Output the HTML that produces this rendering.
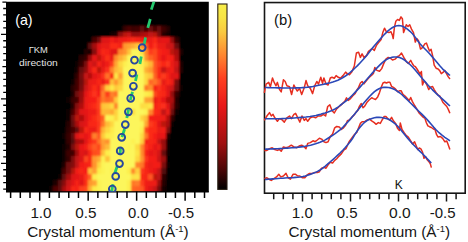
<!DOCTYPE html>
<html><head><meta charset="utf-8"><title>figure</title>
<style>html,body{margin:0;padding:0;background:#fff;}svg{display:block}text{font-family:"Liberation Sans",sans-serif;}</style>
</head><body>
<svg width="468" height="242" viewBox="0 0 468 242">
<defs>
<filter id="hb" x="-5%" y="-5%" width="110%" height="110%"><feGaussianBlur stdDeviation="1.25"/></filter>
<clipPath id="hclip"><rect x="6.00" y="1.80" width="202.80" height="190.20"/></clipPath>
<linearGradient id="cb" x1="0" y1="1" x2="0" y2="0">
<stop offset="0.00" stop-color="#000000"/>
<stop offset="0.10" stop-color="#460606"/>
<stop offset="0.25" stop-color="#a01010"/>
<stop offset="0.45" stop-color="#e81818"/>
<stop offset="0.60" stop-color="#ff4020"/>
<stop offset="0.72" stop-color="#fe8430"/>
<stop offset="0.85" stop-color="#faca40"/>
<stop offset="0.93" stop-color="#f8e444"/>
<stop offset="1.00" stop-color="#f8ee4a"/>
</linearGradient>
</defs>
<rect width="468" height="242" fill="#fff"/>
<g filter="url(#hb)" clip-path="url(#hclip)" shape-rendering="crispEdges">
<rect x="3.0" y="-1.2" width="208.8" height="196.2" fill="#000"/>
<rect x="118.19" y="25.57" width="4.36" height="5.99" fill="#050000"/>
<rect x="122.50" y="25.57" width="4.36" height="5.99" fill="#390404"/>
<rect x="126.82" y="25.57" width="4.36" height="5.99" fill="#4c0606"/>
<rect x="131.13" y="25.57" width="4.36" height="5.99" fill="#3c0404"/>
<rect x="135.45" y="25.57" width="4.36" height="5.99" fill="#410505"/>
<rect x="139.76" y="25.57" width="4.36" height="5.99" fill="#620808"/>
<rect x="144.08" y="25.57" width="4.36" height="5.99" fill="#3c0404"/>
<rect x="148.39" y="25.57" width="4.36" height="5.99" fill="#6c0909"/>
<rect x="152.71" y="25.57" width="4.36" height="5.99" fill="#470505"/>
<rect x="157.02" y="25.57" width="4.36" height="5.99" fill="#680909"/>
<rect x="161.34" y="25.57" width="4.36" height="5.99" fill="#3d0404"/>
<rect x="165.65" y="25.57" width="4.36" height="5.99" fill="#200202"/>
<rect x="109.56" y="31.52" width="4.36" height="5.99" fill="#140101"/>
<rect x="113.87" y="31.52" width="4.36" height="5.99" fill="#1d0202"/>
<rect x="118.19" y="31.52" width="4.36" height="5.99" fill="#8c0d0d"/>
<rect x="122.50" y="31.52" width="4.36" height="5.99" fill="#b91211"/>
<rect x="126.82" y="31.52" width="4.36" height="5.99" fill="#c81412"/>
<rect x="131.13" y="31.52" width="4.36" height="5.99" fill="#960e0e"/>
<rect x="135.45" y="31.52" width="4.36" height="5.99" fill="#940e0e"/>
<rect x="139.76" y="31.52" width="4.36" height="5.99" fill="#a81010"/>
<rect x="144.08" y="31.52" width="4.36" height="5.99" fill="#b21110"/>
<rect x="148.39" y="31.52" width="4.36" height="5.99" fill="#c31312"/>
<rect x="152.71" y="31.52" width="4.36" height="5.99" fill="#bb1211"/>
<rect x="157.02" y="31.52" width="4.36" height="5.99" fill="#7a0b0b"/>
<rect x="161.34" y="31.52" width="4.36" height="5.99" fill="#280303"/>
<rect x="165.65" y="31.52" width="4.36" height="5.99" fill="#160101"/>
<rect x="87.98" y="37.46" width="4.36" height="5.99" fill="#020000"/>
<rect x="92.30" y="37.46" width="4.36" height="5.99" fill="#480505"/>
<rect x="96.61" y="37.46" width="4.36" height="5.99" fill="#6f0a0a"/>
<rect x="100.93" y="37.46" width="4.36" height="5.99" fill="#db1614"/>
<rect x="105.24" y="37.46" width="4.36" height="5.99" fill="#e01714"/>
<rect x="109.56" y="37.46" width="4.36" height="5.99" fill="#f11d16"/>
<rect x="113.87" y="37.46" width="4.36" height="5.99" fill="#e41815"/>
<rect x="118.19" y="37.46" width="4.36" height="5.99" fill="#eb1b15"/>
<rect x="122.50" y="37.46" width="4.36" height="5.99" fill="#f31e16"/>
<rect x="126.82" y="37.46" width="4.36" height="5.99" fill="#f52016"/>
<rect x="131.13" y="37.46" width="4.36" height="5.99" fill="#fa2919"/>
<rect x="135.45" y="37.46" width="4.36" height="5.99" fill="#f72317"/>
<rect x="139.76" y="37.46" width="4.36" height="5.99" fill="#ef1c16"/>
<rect x="144.08" y="37.46" width="4.36" height="5.99" fill="#e81a15"/>
<rect x="148.39" y="37.46" width="4.36" height="5.99" fill="#ed1b15"/>
<rect x="152.71" y="37.46" width="4.36" height="5.99" fill="#f92818"/>
<rect x="157.02" y="37.46" width="4.36" height="5.99" fill="#df1614"/>
<rect x="161.34" y="37.46" width="4.36" height="5.99" fill="#e61915"/>
<rect x="165.65" y="37.46" width="4.36" height="5.99" fill="#e31814"/>
<rect x="169.97" y="37.46" width="4.36" height="5.99" fill="#950e0e"/>
<rect x="174.28" y="37.46" width="4.36" height="5.99" fill="#340303"/>
<rect x="87.98" y="43.41" width="4.36" height="5.99" fill="#5b0707"/>
<rect x="92.30" y="43.41" width="4.36" height="5.99" fill="#a5100f"/>
<rect x="96.61" y="43.41" width="4.36" height="5.99" fill="#df1614"/>
<rect x="100.93" y="43.41" width="4.36" height="5.99" fill="#e91a15"/>
<rect x="105.24" y="43.41" width="4.36" height="5.99" fill="#e81a15"/>
<rect x="109.56" y="43.41" width="8.68" height="5.99" fill="#fb2c19"/>
<rect x="118.19" y="43.41" width="4.36" height="5.99" fill="#f52016"/>
<rect x="122.50" y="43.41" width="4.36" height="5.99" fill="#ff962e"/>
<rect x="126.82" y="43.41" width="4.36" height="5.99" fill="#ffa131"/>
<rect x="131.13" y="43.41" width="4.36" height="5.99" fill="#feae34"/>
<rect x="135.45" y="43.41" width="4.36" height="5.99" fill="#fec53a"/>
<rect x="139.76" y="43.41" width="4.36" height="5.99" fill="#ff922d"/>
<rect x="144.08" y="43.41" width="4.36" height="5.99" fill="#ff5e22"/>
<rect x="148.39" y="43.41" width="4.36" height="5.99" fill="#f21d16"/>
<rect x="152.71" y="43.41" width="4.36" height="5.99" fill="#fd301a"/>
<rect x="157.02" y="43.41" width="4.36" height="5.99" fill="#ee1c15"/>
<rect x="161.34" y="43.41" width="4.36" height="5.99" fill="#e91a15"/>
<rect x="165.65" y="43.41" width="4.36" height="5.99" fill="#d01413"/>
<rect x="169.97" y="43.41" width="4.36" height="5.99" fill="#c91412"/>
<rect x="174.28" y="43.41" width="4.36" height="5.99" fill="#680909"/>
<rect x="178.60" y="43.41" width="4.36" height="5.99" fill="#050000"/>
<rect x="83.67" y="49.35" width="4.36" height="5.99" fill="#210202"/>
<rect x="87.98" y="49.35" width="4.36" height="5.99" fill="#1a0202"/>
<rect x="92.30" y="49.35" width="4.36" height="5.99" fill="#880c0c"/>
<rect x="96.61" y="49.35" width="4.36" height="5.99" fill="#e41815"/>
<rect x="100.93" y="49.35" width="4.36" height="5.99" fill="#f82518"/>
<rect x="105.24" y="49.35" width="4.36" height="5.99" fill="#f62317"/>
<rect x="109.56" y="49.35" width="4.36" height="5.99" fill="#e01714"/>
<rect x="113.87" y="49.35" width="4.36" height="5.99" fill="#de1614"/>
<rect x="118.19" y="49.35" width="4.36" height="5.99" fill="#ff852a"/>
<rect x="122.50" y="49.35" width="4.36" height="5.99" fill="#ff932d"/>
<rect x="126.82" y="49.35" width="4.36" height="5.99" fill="#fec339"/>
<rect x="131.13" y="49.35" width="8.68" height="5.99" fill="#fcf65c"/>
<rect x="139.76" y="49.35" width="4.36" height="5.99" fill="#fddf43"/>
<rect x="144.08" y="49.35" width="4.36" height="5.99" fill="#ff892b"/>
<rect x="148.39" y="49.35" width="4.36" height="5.99" fill="#fe3d1c"/>
<rect x="152.71" y="49.35" width="4.36" height="5.99" fill="#fe4c1f"/>
<rect x="157.02" y="49.35" width="4.36" height="5.99" fill="#f92718"/>
<rect x="161.34" y="49.35" width="4.36" height="5.99" fill="#f41f16"/>
<rect x="165.65" y="49.35" width="4.36" height="5.99" fill="#ee1c15"/>
<rect x="169.97" y="49.35" width="4.36" height="5.99" fill="#bc1211"/>
<rect x="174.28" y="49.35" width="4.36" height="5.99" fill="#a8100f"/>
<rect x="178.60" y="49.35" width="4.36" height="5.99" fill="#1e0202"/>
<rect x="75.04" y="55.29" width="4.36" height="5.99" fill="#020000"/>
<rect x="79.35" y="55.29" width="4.36" height="5.99" fill="#2a0303"/>
<rect x="83.67" y="55.29" width="4.36" height="5.99" fill="#380404"/>
<rect x="87.98" y="55.29" width="4.36" height="5.99" fill="#970e0e"/>
<rect x="92.30" y="55.29" width="4.36" height="5.99" fill="#e71915"/>
<rect x="96.61" y="55.29" width="4.36" height="5.99" fill="#bf1311"/>
<rect x="100.93" y="55.29" width="4.36" height="5.99" fill="#eb1b15"/>
<rect x="105.24" y="55.29" width="4.36" height="5.99" fill="#fc2d19"/>
<rect x="109.56" y="55.29" width="4.36" height="5.99" fill="#eb1b15"/>
<rect x="113.87" y="55.29" width="4.36" height="5.99" fill="#ff8b2b"/>
<rect x="118.19" y="55.29" width="4.36" height="5.99" fill="#feb035"/>
<rect x="122.50" y="55.29" width="4.36" height="5.99" fill="#fecb3c"/>
<rect x="126.82" y="55.29" width="12.99" height="5.99" fill="#fcf65c"/>
<rect x="139.76" y="55.29" width="4.36" height="5.99" fill="#fcf65b"/>
<rect x="144.08" y="55.29" width="4.36" height="5.99" fill="#ff922d"/>
<rect x="148.39" y="55.29" width="4.36" height="5.99" fill="#ff6424"/>
<rect x="152.71" y="55.29" width="4.36" height="5.99" fill="#fe4d1f"/>
<rect x="157.02" y="55.29" width="4.36" height="5.99" fill="#f72517"/>
<rect x="161.34" y="55.29" width="4.36" height="5.99" fill="#e71915"/>
<rect x="165.65" y="55.29" width="4.36" height="5.99" fill="#f62117"/>
<rect x="169.97" y="55.29" width="4.36" height="5.99" fill="#f51f16"/>
<rect x="174.28" y="55.29" width="4.36" height="5.99" fill="#b21110"/>
<rect x="178.60" y="55.29" width="4.36" height="5.99" fill="#040000"/>
<rect x="75.04" y="61.24" width="4.36" height="5.99" fill="#0b0101"/>
<rect x="79.35" y="61.24" width="4.36" height="5.99" fill="#360404"/>
<rect x="83.67" y="61.24" width="4.36" height="5.99" fill="#7d0b0b"/>
<rect x="87.98" y="61.24" width="4.36" height="5.99" fill="#e11714"/>
<rect x="92.30" y="61.24" width="4.36" height="5.99" fill="#cd1413"/>
<rect x="96.61" y="61.24" width="4.36" height="5.99" fill="#f72417"/>
<rect x="100.93" y="61.24" width="4.36" height="5.99" fill="#e11714"/>
<rect x="105.24" y="61.24" width="4.36" height="5.99" fill="#ef1c16"/>
<rect x="109.56" y="61.24" width="4.36" height="5.99" fill="#fd3b1c"/>
<rect x="113.87" y="61.24" width="4.36" height="5.99" fill="#ffa532"/>
<rect x="118.19" y="61.24" width="4.36" height="5.99" fill="#fed841"/>
<rect x="122.50" y="61.24" width="4.36" height="5.99" fill="#fdf04f"/>
<rect x="126.82" y="61.24" width="12.99" height="5.99" fill="#fcf65c"/>
<rect x="139.76" y="61.24" width="4.36" height="5.99" fill="#fcf152"/>
<rect x="144.08" y="61.24" width="4.36" height="5.99" fill="#fed640"/>
<rect x="148.39" y="61.24" width="4.36" height="5.99" fill="#feb636"/>
<rect x="152.71" y="61.24" width="4.36" height="5.99" fill="#ff5421"/>
<rect x="157.02" y="61.24" width="4.36" height="5.99" fill="#fd381b"/>
<rect x="161.34" y="61.24" width="4.36" height="5.99" fill="#f92818"/>
<rect x="165.65" y="61.24" width="4.36" height="5.99" fill="#fd351b"/>
<rect x="169.97" y="61.24" width="4.36" height="5.99" fill="#ea1a15"/>
<rect x="174.28" y="61.24" width="4.36" height="5.99" fill="#d31513"/>
<rect x="178.60" y="61.24" width="4.36" height="5.99" fill="#1b0202"/>
<rect x="75.04" y="67.18" width="4.36" height="5.99" fill="#190202"/>
<rect x="79.35" y="67.18" width="4.36" height="5.99" fill="#660909"/>
<rect x="83.67" y="67.18" width="4.36" height="5.99" fill="#920e0e"/>
<rect x="87.98" y="67.18" width="4.36" height="5.99" fill="#dc1614"/>
<rect x="92.30" y="67.18" width="4.36" height="5.99" fill="#f82618"/>
<rect x="96.61" y="67.18" width="4.36" height="5.99" fill="#bb1211"/>
<rect x="100.93" y="67.18" width="4.36" height="5.99" fill="#e91a15"/>
<rect x="105.24" y="67.18" width="4.36" height="5.99" fill="#fc2f1a"/>
<rect x="109.56" y="67.18" width="4.36" height="5.99" fill="#ff832a"/>
<rect x="113.87" y="67.18" width="4.36" height="5.99" fill="#feb937"/>
<rect x="118.19" y="67.18" width="4.36" height="5.99" fill="#fecb3c"/>
<rect x="122.50" y="67.18" width="17.31" height="5.99" fill="#fcf65c"/>
<rect x="139.76" y="67.18" width="4.36" height="5.99" fill="#fcf459"/>
<rect x="144.08" y="67.18" width="4.36" height="5.99" fill="#feb235"/>
<rect x="148.39" y="67.18" width="4.36" height="5.99" fill="#ff9a2f"/>
<rect x="152.71" y="67.18" width="4.36" height="5.99" fill="#ff5721"/>
<rect x="157.02" y="67.18" width="4.36" height="5.99" fill="#f92918"/>
<rect x="161.34" y="67.18" width="4.36" height="5.99" fill="#c51312"/>
<rect x="165.65" y="67.18" width="4.36" height="5.99" fill="#e81a15"/>
<rect x="169.97" y="67.18" width="4.36" height="5.99" fill="#f31d16"/>
<rect x="174.28" y="67.18" width="4.36" height="5.99" fill="#c11312"/>
<rect x="178.60" y="67.18" width="4.36" height="5.99" fill="#200202"/>
<rect x="70.72" y="73.12" width="4.36" height="5.99" fill="#030000"/>
<rect x="75.04" y="73.12" width="4.36" height="5.99" fill="#320303"/>
<rect x="79.35" y="73.12" width="4.36" height="5.99" fill="#780b0b"/>
<rect x="83.67" y="73.12" width="4.36" height="5.99" fill="#c71312"/>
<rect x="87.98" y="73.12" width="4.36" height="5.99" fill="#b41110"/>
<rect x="92.30" y="73.12" width="4.36" height="5.99" fill="#e41815"/>
<rect x="96.61" y="73.12" width="4.36" height="5.99" fill="#ed1c15"/>
<rect x="100.93" y="73.12" width="4.36" height="5.99" fill="#fc2e1a"/>
<rect x="105.24" y="73.12" width="4.36" height="5.99" fill="#ff7026"/>
<rect x="109.56" y="73.12" width="4.36" height="5.99" fill="#f82618"/>
<rect x="113.87" y="73.12" width="4.36" height="5.99" fill="#fde646"/>
<rect x="118.19" y="73.12" width="4.36" height="5.99" fill="#ffa231"/>
<rect x="122.50" y="73.12" width="4.36" height="5.99" fill="#fcf65c"/>
<rect x="126.82" y="73.12" width="4.36" height="5.99" fill="#fcf559"/>
<rect x="131.13" y="73.12" width="12.99" height="5.99" fill="#fcf65c"/>
<rect x="144.08" y="73.12" width="4.36" height="5.99" fill="#fed841"/>
<rect x="148.39" y="73.12" width="4.36" height="5.99" fill="#fec63a"/>
<rect x="152.71" y="73.12" width="4.36" height="5.99" fill="#ff6123"/>
<rect x="157.02" y="73.12" width="4.36" height="5.99" fill="#f92818"/>
<rect x="161.34" y="73.12" width="4.36" height="5.99" fill="#fd3a1c"/>
<rect x="165.65" y="73.12" width="4.36" height="5.99" fill="#f72417"/>
<rect x="169.97" y="73.12" width="8.68" height="5.99" fill="#e01714"/>
<rect x="178.60" y="73.12" width="4.36" height="5.99" fill="#050000"/>
<rect x="70.72" y="79.07" width="4.36" height="5.99" fill="#0b0101"/>
<rect x="75.04" y="79.07" width="4.36" height="5.99" fill="#420505"/>
<rect x="79.35" y="79.07" width="4.36" height="5.99" fill="#700a0a"/>
<rect x="83.67" y="79.07" width="4.36" height="5.99" fill="#b71211"/>
<rect x="87.98" y="79.07" width="4.36" height="5.99" fill="#e91a15"/>
<rect x="92.30" y="79.07" width="4.36" height="5.99" fill="#ee1c15"/>
<rect x="96.61" y="79.07" width="4.36" height="5.99" fill="#f92818"/>
<rect x="100.93" y="79.07" width="4.36" height="5.99" fill="#eb1b15"/>
<rect x="105.24" y="79.07" width="4.36" height="5.99" fill="#fc2e1a"/>
<rect x="109.56" y="79.07" width="4.36" height="5.99" fill="#febe38"/>
<rect x="113.87" y="79.07" width="4.36" height="5.99" fill="#ff982f"/>
<rect x="118.19" y="79.07" width="4.36" height="5.99" fill="#fec43a"/>
<rect x="122.50" y="79.07" width="4.36" height="5.99" fill="#fcf55a"/>
<rect x="126.82" y="79.07" width="12.99" height="5.99" fill="#fcf65c"/>
<rect x="139.76" y="79.07" width="4.36" height="5.99" fill="#fcf55a"/>
<rect x="144.08" y="79.07" width="4.36" height="5.99" fill="#fdd941"/>
<rect x="148.39" y="79.07" width="4.36" height="5.99" fill="#ff6925"/>
<rect x="152.71" y="79.07" width="4.36" height="5.99" fill="#ff7627"/>
<rect x="157.02" y="79.07" width="4.36" height="5.99" fill="#ff5320"/>
<rect x="161.34" y="79.07" width="4.36" height="5.99" fill="#e81a15"/>
<rect x="165.65" y="79.07" width="4.36" height="5.99" fill="#f92818"/>
<rect x="169.97" y="79.07" width="4.36" height="5.99" fill="#ec1b15"/>
<rect x="174.28" y="79.07" width="4.36" height="5.99" fill="#790b0b"/>
<rect x="70.72" y="85.01" width="4.36" height="5.99" fill="#2a0303"/>
<rect x="75.04" y="85.01" width="4.36" height="5.99" fill="#420505"/>
<rect x="79.35" y="85.01" width="4.36" height="5.99" fill="#790b0b"/>
<rect x="83.67" y="85.01" width="4.36" height="5.99" fill="#ca1412"/>
<rect x="87.98" y="85.01" width="4.36" height="5.99" fill="#e81a15"/>
<rect x="92.30" y="85.01" width="4.36" height="5.99" fill="#fb2c19"/>
<rect x="96.61" y="85.01" width="4.36" height="5.99" fill="#ec1b15"/>
<rect x="100.93" y="85.01" width="4.36" height="5.99" fill="#ff6925"/>
<rect x="105.24" y="85.01" width="4.36" height="5.99" fill="#fecb3c"/>
<rect x="109.56" y="85.01" width="4.36" height="5.99" fill="#fde746"/>
<rect x="113.87" y="85.01" width="4.36" height="5.99" fill="#fec93b"/>
<rect x="118.19" y="85.01" width="4.36" height="5.99" fill="#fed841"/>
<rect x="122.50" y="85.01" width="21.62" height="5.99" fill="#fcf65c"/>
<rect x="144.08" y="85.01" width="4.36" height="5.99" fill="#ff7928"/>
<rect x="148.39" y="85.01" width="4.36" height="5.99" fill="#ff8f2c"/>
<rect x="152.71" y="85.01" width="4.36" height="5.99" fill="#f52017"/>
<rect x="157.02" y="85.01" width="4.36" height="5.99" fill="#fd361b"/>
<rect x="161.34" y="85.01" width="4.36" height="5.99" fill="#f52016"/>
<rect x="165.65" y="85.01" width="4.36" height="5.99" fill="#df1714"/>
<rect x="169.97" y="85.01" width="4.36" height="5.99" fill="#cc1413"/>
<rect x="174.28" y="85.01" width="4.36" height="5.99" fill="#6e0a0a"/>
<rect x="178.60" y="85.01" width="4.36" height="5.99" fill="#070000"/>
<rect x="70.72" y="90.96" width="4.36" height="5.99" fill="#1e0202"/>
<rect x="75.04" y="90.96" width="4.36" height="5.99" fill="#720a0a"/>
<rect x="79.35" y="90.96" width="4.36" height="5.99" fill="#980e0e"/>
<rect x="83.67" y="90.96" width="4.36" height="5.99" fill="#e31814"/>
<rect x="87.98" y="90.96" width="4.36" height="5.99" fill="#f62317"/>
<rect x="92.30" y="90.96" width="4.36" height="5.99" fill="#fd331b"/>
<rect x="96.61" y="90.96" width="4.36" height="5.99" fill="#f41e16"/>
<rect x="100.93" y="90.96" width="4.36" height="5.99" fill="#ff7f29"/>
<rect x="105.24" y="90.96" width="4.36" height="5.99" fill="#fe3e1d"/>
<rect x="109.56" y="90.96" width="4.36" height="5.99" fill="#ff822a"/>
<rect x="113.87" y="90.96" width="4.36" height="5.99" fill="#ff7527"/>
<rect x="118.19" y="90.96" width="25.94" height="5.99" fill="#fcf65c"/>
<rect x="144.08" y="90.96" width="4.36" height="5.99" fill="#fdee4b"/>
<rect x="148.39" y="90.96" width="4.36" height="5.99" fill="#fde545"/>
<rect x="152.71" y="90.96" width="4.36" height="5.99" fill="#fe4a1f"/>
<rect x="157.02" y="90.96" width="4.36" height="5.99" fill="#fb2d19"/>
<rect x="161.34" y="90.96" width="4.36" height="5.99" fill="#f82718"/>
<rect x="165.65" y="90.96" width="4.36" height="5.99" fill="#e21714"/>
<rect x="169.97" y="90.96" width="4.36" height="5.99" fill="#960e0e"/>
<rect x="174.28" y="90.96" width="4.36" height="5.99" fill="#360404"/>
<rect x="66.41" y="96.90" width="4.36" height="5.99" fill="#070000"/>
<rect x="70.72" y="96.90" width="4.36" height="5.99" fill="#3a0404"/>
<rect x="75.04" y="96.90" width="4.36" height="5.99" fill="#470505"/>
<rect x="79.35" y="96.90" width="4.36" height="5.99" fill="#9d0f0f"/>
<rect x="83.67" y="96.90" width="4.36" height="5.99" fill="#ea1a15"/>
<rect x="87.98" y="96.90" width="4.36" height="5.99" fill="#f41e16"/>
<rect x="92.30" y="96.90" width="4.36" height="5.99" fill="#f51f16"/>
<rect x="96.61" y="96.90" width="4.36" height="5.99" fill="#fe401d"/>
<rect x="100.93" y="96.90" width="4.36" height="5.99" fill="#ff7727"/>
<rect x="105.24" y="96.90" width="4.36" height="5.99" fill="#ff6524"/>
<rect x="109.56" y="96.90" width="4.36" height="5.99" fill="#ff7226"/>
<rect x="113.87" y="96.90" width="4.36" height="5.99" fill="#fec63a"/>
<rect x="118.19" y="96.90" width="17.31" height="5.99" fill="#fcf65c"/>
<rect x="135.45" y="96.90" width="4.36" height="5.99" fill="#fcf458"/>
<rect x="139.76" y="96.90" width="4.36" height="5.99" fill="#fcf65c"/>
<rect x="144.08" y="96.90" width="4.36" height="5.99" fill="#ffa432"/>
<rect x="148.39" y="96.90" width="4.36" height="5.99" fill="#ffa030"/>
<rect x="152.71" y="96.90" width="4.36" height="5.99" fill="#e81a15"/>
<rect x="157.02" y="96.90" width="4.36" height="5.99" fill="#f92818"/>
<rect x="161.34" y="96.90" width="4.36" height="5.99" fill="#e61915"/>
<rect x="165.65" y="96.90" width="4.36" height="5.99" fill="#b51111"/>
<rect x="169.97" y="96.90" width="4.36" height="5.99" fill="#ae1110"/>
<rect x="174.28" y="96.90" width="4.36" height="5.99" fill="#200202"/>
<rect x="70.72" y="102.84" width="4.36" height="5.99" fill="#2c0303"/>
<rect x="75.04" y="102.84" width="4.36" height="5.99" fill="#880c0c"/>
<rect x="79.35" y="102.84" width="4.36" height="5.99" fill="#b11110"/>
<rect x="83.67" y="102.84" width="4.36" height="5.99" fill="#eb1b15"/>
<rect x="87.98" y="102.84" width="4.36" height="5.99" fill="#f52117"/>
<rect x="92.30" y="102.84" width="4.36" height="5.99" fill="#fb2c19"/>
<rect x="96.61" y="102.84" width="4.36" height="5.99" fill="#fe421d"/>
<rect x="100.93" y="102.84" width="4.36" height="5.99" fill="#fec239"/>
<rect x="105.24" y="102.84" width="4.36" height="5.99" fill="#fec83b"/>
<rect x="109.56" y="102.84" width="4.36" height="5.99" fill="#fdda41"/>
<rect x="113.87" y="102.84" width="4.36" height="5.99" fill="#ff842a"/>
<rect x="118.19" y="102.84" width="21.62" height="5.99" fill="#fcf65c"/>
<rect x="139.76" y="102.84" width="4.36" height="5.99" fill="#fddd42"/>
<rect x="144.08" y="102.84" width="4.36" height="5.99" fill="#fddf43"/>
<rect x="148.39" y="102.84" width="4.36" height="5.99" fill="#fde545"/>
<rect x="152.71" y="102.84" width="4.36" height="5.99" fill="#f62317"/>
<rect x="157.02" y="102.84" width="4.36" height="5.99" fill="#fa2b19"/>
<rect x="161.34" y="102.84" width="4.36" height="5.99" fill="#fc2e1a"/>
<rect x="165.65" y="102.84" width="4.36" height="5.99" fill="#df1614"/>
<rect x="169.97" y="102.84" width="4.36" height="5.99" fill="#950e0e"/>
<rect x="174.28" y="102.84" width="4.36" height="5.99" fill="#260303"/>
<rect x="66.41" y="108.79" width="4.36" height="5.99" fill="#0a0101"/>
<rect x="70.72" y="108.79" width="4.36" height="5.99" fill="#4e0606"/>
<rect x="75.04" y="108.79" width="4.36" height="5.99" fill="#9a0e0e"/>
<rect x="79.35" y="108.79" width="4.36" height="5.99" fill="#df1614"/>
<rect x="83.67" y="108.79" width="4.36" height="5.99" fill="#e51915"/>
<rect x="87.98" y="108.79" width="8.68" height="5.99" fill="#ee1c15"/>
<rect x="96.61" y="108.79" width="4.36" height="5.99" fill="#fe3b1c"/>
<rect x="100.93" y="108.79" width="4.36" height="5.99" fill="#feb736"/>
<rect x="105.24" y="108.79" width="4.36" height="5.99" fill="#feb636"/>
<rect x="109.56" y="108.79" width="4.36" height="5.99" fill="#ffa833"/>
<rect x="113.87" y="108.79" width="4.36" height="5.99" fill="#fed23e"/>
<rect x="118.19" y="108.79" width="12.99" height="5.99" fill="#fcf65c"/>
<rect x="131.13" y="108.79" width="4.36" height="5.99" fill="#fddd43"/>
<rect x="135.45" y="108.79" width="8.68" height="5.99" fill="#fcf65c"/>
<rect x="144.08" y="108.79" width="4.36" height="5.99" fill="#fcf253"/>
<rect x="148.39" y="108.79" width="4.36" height="5.99" fill="#ff872b"/>
<rect x="152.71" y="108.79" width="4.36" height="5.99" fill="#fa2a19"/>
<rect x="157.02" y="108.79" width="4.36" height="5.99" fill="#f82718"/>
<rect x="161.34" y="108.79" width="4.36" height="5.99" fill="#c31312"/>
<rect x="165.65" y="108.79" width="4.36" height="5.99" fill="#ea1a15"/>
<rect x="169.97" y="108.79" width="4.36" height="5.99" fill="#700a0a"/>
<rect x="174.28" y="108.79" width="4.36" height="5.99" fill="#0a0101"/>
<rect x="66.41" y="114.73" width="4.36" height="5.99" fill="#100101"/>
<rect x="70.72" y="114.73" width="4.36" height="5.99" fill="#710a0a"/>
<rect x="75.04" y="114.73" width="4.36" height="5.99" fill="#be1211"/>
<rect x="79.35" y="114.73" width="4.36" height="5.99" fill="#ae1110"/>
<rect x="83.67" y="114.73" width="4.36" height="5.99" fill="#de1614"/>
<rect x="87.98" y="114.73" width="4.36" height="5.99" fill="#f41f16"/>
<rect x="92.30" y="114.73" width="4.36" height="5.99" fill="#f92918"/>
<rect x="96.61" y="114.73" width="4.36" height="5.99" fill="#fe401d"/>
<rect x="100.93" y="114.73" width="4.36" height="5.99" fill="#ff6223"/>
<rect x="105.24" y="114.73" width="4.36" height="5.99" fill="#fcf356"/>
<rect x="109.56" y="114.73" width="4.36" height="5.99" fill="#fdf051"/>
<rect x="113.87" y="114.73" width="4.36" height="5.99" fill="#fed941"/>
<rect x="118.19" y="114.73" width="21.62" height="5.99" fill="#fcf65c"/>
<rect x="139.76" y="114.73" width="4.36" height="5.99" fill="#fed540"/>
<rect x="144.08" y="114.73" width="4.36" height="5.99" fill="#feba37"/>
<rect x="148.39" y="114.73" width="4.36" height="5.99" fill="#f41f16"/>
<rect x="152.71" y="114.73" width="4.36" height="5.99" fill="#f31e16"/>
<rect x="157.02" y="114.73" width="4.36" height="5.99" fill="#f21d16"/>
<rect x="161.34" y="114.73" width="4.36" height="5.99" fill="#ed1c15"/>
<rect x="165.65" y="114.73" width="4.36" height="5.99" fill="#b51111"/>
<rect x="169.97" y="114.73" width="4.36" height="5.99" fill="#350404"/>
<rect x="66.41" y="120.67" width="4.36" height="5.99" fill="#260303"/>
<rect x="70.72" y="120.67" width="4.36" height="5.99" fill="#640808"/>
<rect x="75.04" y="120.67" width="4.36" height="5.99" fill="#ab1010"/>
<rect x="79.35" y="120.67" width="4.36" height="5.99" fill="#d81514"/>
<rect x="83.67" y="120.67" width="4.36" height="5.99" fill="#e31814"/>
<rect x="87.98" y="120.67" width="4.36" height="5.99" fill="#f82618"/>
<rect x="92.30" y="120.67" width="4.36" height="5.99" fill="#f92818"/>
<rect x="96.61" y="120.67" width="4.36" height="5.99" fill="#fd351b"/>
<rect x="100.93" y="120.67" width="4.36" height="5.99" fill="#ff7627"/>
<rect x="105.24" y="120.67" width="4.36" height="5.99" fill="#febd38"/>
<rect x="109.56" y="120.67" width="4.36" height="5.99" fill="#fed841"/>
<rect x="113.87" y="120.67" width="25.94" height="5.99" fill="#fcf65c"/>
<rect x="139.76" y="120.67" width="4.36" height="5.99" fill="#fcf459"/>
<rect x="144.08" y="120.67" width="4.36" height="5.99" fill="#ffa933"/>
<rect x="148.39" y="120.67" width="4.36" height="5.99" fill="#fd3a1c"/>
<rect x="152.71" y="120.67" width="4.36" height="5.99" fill="#fa2b19"/>
<rect x="157.02" y="120.67" width="4.36" height="5.99" fill="#e31814"/>
<rect x="161.34" y="120.67" width="4.36" height="5.99" fill="#bb1211"/>
<rect x="165.65" y="120.67" width="4.36" height="5.99" fill="#a7100f"/>
<rect x="169.97" y="120.67" width="4.36" height="5.99" fill="#080101"/>
<rect x="62.09" y="126.62" width="4.36" height="5.99" fill="#030000"/>
<rect x="66.41" y="126.62" width="4.36" height="5.99" fill="#2e0303"/>
<rect x="70.72" y="126.62" width="4.36" height="5.99" fill="#4a0606"/>
<rect x="75.04" y="126.62" width="4.36" height="5.99" fill="#600808"/>
<rect x="79.35" y="126.62" width="4.36" height="5.99" fill="#bd1211"/>
<rect x="83.67" y="126.62" width="4.36" height="5.99" fill="#f82518"/>
<rect x="87.98" y="126.62" width="4.36" height="5.99" fill="#ee1c15"/>
<rect x="92.30" y="126.62" width="4.36" height="5.99" fill="#eb1b15"/>
<rect x="96.61" y="126.62" width="4.36" height="5.99" fill="#fe3e1c"/>
<rect x="100.93" y="126.62" width="4.36" height="5.99" fill="#feb235"/>
<rect x="105.24" y="126.62" width="4.36" height="5.99" fill="#fed640"/>
<rect x="109.56" y="126.62" width="4.36" height="5.99" fill="#fdeb48"/>
<rect x="113.87" y="126.62" width="25.94" height="5.99" fill="#fcf65c"/>
<rect x="139.76" y="126.62" width="4.36" height="5.99" fill="#fdee4d"/>
<rect x="144.08" y="126.62" width="4.36" height="5.99" fill="#fe4a1f"/>
<rect x="148.39" y="126.62" width="8.68" height="5.99" fill="#fb2b19"/>
<rect x="157.02" y="126.62" width="4.36" height="5.99" fill="#e91a15"/>
<rect x="161.34" y="126.62" width="4.36" height="5.99" fill="#ef1c16"/>
<rect x="165.65" y="126.62" width="4.36" height="5.99" fill="#7f0b0b"/>
<rect x="169.97" y="126.62" width="4.36" height="5.99" fill="#030000"/>
<rect x="62.09" y="132.56" width="4.36" height="5.99" fill="#070000"/>
<rect x="66.41" y="132.56" width="4.36" height="5.99" fill="#390404"/>
<rect x="70.72" y="132.56" width="4.36" height="5.99" fill="#660909"/>
<rect x="75.04" y="132.56" width="4.36" height="5.99" fill="#de1614"/>
<rect x="79.35" y="132.56" width="4.36" height="5.99" fill="#ec1b15"/>
<rect x="83.67" y="132.56" width="4.36" height="5.99" fill="#e61915"/>
<rect x="87.98" y="132.56" width="4.36" height="5.99" fill="#f51f16"/>
<rect x="92.30" y="132.56" width="4.36" height="5.99" fill="#ff7f29"/>
<rect x="96.61" y="132.56" width="4.36" height="5.99" fill="#ff5821"/>
<rect x="100.93" y="132.56" width="4.36" height="5.99" fill="#feca3b"/>
<rect x="105.24" y="132.56" width="4.36" height="5.99" fill="#fded4a"/>
<rect x="109.56" y="132.56" width="4.36" height="5.99" fill="#fdf04f"/>
<rect x="113.87" y="132.56" width="25.94" height="5.99" fill="#fcf65c"/>
<rect x="139.76" y="132.56" width="4.36" height="5.99" fill="#fddc42"/>
<rect x="144.08" y="132.56" width="4.36" height="5.99" fill="#ff7b28"/>
<rect x="148.39" y="132.56" width="4.36" height="5.99" fill="#fb2c19"/>
<rect x="152.71" y="132.56" width="4.36" height="5.99" fill="#f51f16"/>
<rect x="157.02" y="132.56" width="8.68" height="5.99" fill="#e71915"/>
<rect x="165.65" y="132.56" width="4.36" height="5.99" fill="#220202"/>
<rect x="62.09" y="138.51" width="4.36" height="5.99" fill="#030000"/>
<rect x="66.41" y="138.51" width="4.36" height="5.99" fill="#340303"/>
<rect x="70.72" y="138.51" width="4.36" height="5.99" fill="#530707"/>
<rect x="75.04" y="138.51" width="4.36" height="5.99" fill="#a5100f"/>
<rect x="79.35" y="138.51" width="4.36" height="5.99" fill="#ad1110"/>
<rect x="83.67" y="138.51" width="4.36" height="5.99" fill="#e21714"/>
<rect x="87.98" y="138.51" width="4.36" height="5.99" fill="#f92818"/>
<rect x="92.30" y="138.51" width="4.36" height="5.99" fill="#fd391c"/>
<rect x="96.61" y="138.51" width="4.36" height="5.99" fill="#ff7226"/>
<rect x="100.93" y="138.51" width="4.36" height="5.99" fill="#ffa031"/>
<rect x="105.24" y="138.51" width="4.36" height="5.99" fill="#ff922d"/>
<rect x="109.56" y="138.51" width="21.62" height="5.99" fill="#fcf65c"/>
<rect x="131.13" y="138.51" width="4.36" height="5.99" fill="#fdf152"/>
<rect x="135.45" y="138.51" width="4.36" height="5.99" fill="#fcf65c"/>
<rect x="139.76" y="138.51" width="4.36" height="5.99" fill="#fecf3d"/>
<rect x="144.08" y="138.51" width="4.36" height="5.99" fill="#f52016"/>
<rect x="148.39" y="138.51" width="4.36" height="5.99" fill="#f82618"/>
<rect x="152.71" y="138.51" width="4.36" height="5.99" fill="#f72417"/>
<rect x="157.02" y="138.51" width="4.36" height="5.99" fill="#c31312"/>
<rect x="161.34" y="138.51" width="4.36" height="5.99" fill="#990e0e"/>
<rect x="165.65" y="138.51" width="4.36" height="5.99" fill="#090101"/>
<rect x="62.09" y="144.45" width="4.36" height="5.99" fill="#080101"/>
<rect x="66.41" y="144.45" width="4.36" height="5.99" fill="#230202"/>
<rect x="70.72" y="144.45" width="4.36" height="5.99" fill="#7e0b0b"/>
<rect x="75.04" y="144.45" width="4.36" height="5.99" fill="#ba1211"/>
<rect x="79.35" y="144.45" width="4.36" height="5.99" fill="#e81915"/>
<rect x="83.67" y="144.45" width="4.36" height="5.99" fill="#f41f16"/>
<rect x="87.98" y="144.45" width="4.36" height="5.99" fill="#fe3f1d"/>
<rect x="92.30" y="144.45" width="4.36" height="5.99" fill="#ff5b22"/>
<rect x="96.61" y="144.45" width="4.36" height="5.99" fill="#fe471e"/>
<rect x="100.93" y="144.45" width="4.36" height="5.99" fill="#ff9e30"/>
<rect x="105.24" y="144.45" width="4.36" height="5.99" fill="#feb937"/>
<rect x="109.56" y="144.45" width="17.31" height="5.99" fill="#fcf65c"/>
<rect x="126.82" y="144.45" width="4.36" height="5.99" fill="#fcf457"/>
<rect x="131.13" y="144.45" width="4.36" height="5.99" fill="#fcf55b"/>
<rect x="135.45" y="144.45" width="4.36" height="5.99" fill="#fdda41"/>
<rect x="139.76" y="144.45" width="4.36" height="5.99" fill="#ff862a"/>
<rect x="144.08" y="144.45" width="4.36" height="5.99" fill="#fd321a"/>
<rect x="148.39" y="144.45" width="4.36" height="5.99" fill="#f72317"/>
<rect x="152.71" y="144.45" width="4.36" height="5.99" fill="#e51915"/>
<rect x="157.02" y="144.45" width="4.36" height="5.99" fill="#ec1b15"/>
<rect x="161.34" y="144.45" width="4.36" height="5.99" fill="#9d0f0f"/>
<rect x="165.65" y="144.45" width="4.36" height="5.99" fill="#0d0101"/>
<rect x="62.09" y="150.39" width="4.36" height="5.99" fill="#080101"/>
<rect x="66.41" y="150.39" width="4.36" height="5.99" fill="#3d0404"/>
<rect x="70.72" y="150.39" width="4.36" height="5.99" fill="#400404"/>
<rect x="75.04" y="150.39" width="4.36" height="5.99" fill="#a10f0f"/>
<rect x="79.35" y="150.39" width="4.36" height="5.99" fill="#e11714"/>
<rect x="83.67" y="150.39" width="4.36" height="5.99" fill="#d71513"/>
<rect x="87.98" y="150.39" width="4.36" height="5.99" fill="#f92718"/>
<rect x="92.30" y="150.39" width="4.36" height="5.99" fill="#fe4d1f"/>
<rect x="96.61" y="150.39" width="4.36" height="5.99" fill="#ff5120"/>
<rect x="100.93" y="150.39" width="4.36" height="5.99" fill="#febd38"/>
<rect x="105.24" y="150.39" width="4.36" height="5.99" fill="#fdee4b"/>
<rect x="109.56" y="150.39" width="25.94" height="5.99" fill="#fcf65c"/>
<rect x="135.45" y="150.39" width="4.36" height="5.99" fill="#fde445"/>
<rect x="139.76" y="150.39" width="4.36" height="5.99" fill="#ff8a2b"/>
<rect x="144.08" y="150.39" width="4.36" height="5.99" fill="#f72417"/>
<rect x="148.39" y="150.39" width="4.36" height="5.99" fill="#e61915"/>
<rect x="152.71" y="150.39" width="4.36" height="5.99" fill="#e81a15"/>
<rect x="157.02" y="150.39" width="4.36" height="5.99" fill="#d51513"/>
<rect x="161.34" y="150.39" width="4.36" height="5.99" fill="#680909"/>
<rect x="165.65" y="150.39" width="4.36" height="5.99" fill="#0a0101"/>
<rect x="62.09" y="156.34" width="4.36" height="5.99" fill="#0f0101"/>
<rect x="66.41" y="156.34" width="4.36" height="5.99" fill="#340303"/>
<rect x="70.72" y="156.34" width="4.36" height="5.99" fill="#810c0c"/>
<rect x="75.04" y="156.34" width="4.36" height="5.99" fill="#c21312"/>
<rect x="79.35" y="156.34" width="4.36" height="5.99" fill="#db1614"/>
<rect x="83.67" y="156.34" width="4.36" height="5.99" fill="#fe451e"/>
<rect x="87.98" y="156.34" width="4.36" height="5.99" fill="#f72518"/>
<rect x="92.30" y="156.34" width="4.36" height="5.99" fill="#ff992f"/>
<rect x="96.61" y="156.34" width="4.36" height="5.99" fill="#feae34"/>
<rect x="100.93" y="156.34" width="4.36" height="5.99" fill="#fcf253"/>
<rect x="105.24" y="156.34" width="4.36" height="5.99" fill="#fec339"/>
<rect x="109.56" y="156.34" width="25.94" height="5.99" fill="#fcf65c"/>
<rect x="135.45" y="156.34" width="4.36" height="5.99" fill="#fed740"/>
<rect x="139.76" y="156.34" width="4.36" height="5.99" fill="#ff952e"/>
<rect x="144.08" y="156.34" width="4.36" height="5.99" fill="#fd341b"/>
<rect x="148.39" y="156.34" width="4.36" height="5.99" fill="#f41e16"/>
<rect x="152.71" y="156.34" width="4.36" height="5.99" fill="#f31d16"/>
<rect x="157.02" y="156.34" width="4.36" height="5.99" fill="#cb1412"/>
<rect x="161.34" y="156.34" width="4.36" height="5.99" fill="#a10f0f"/>
<rect x="62.09" y="162.28" width="4.36" height="5.99" fill="#1b0202"/>
<rect x="66.41" y="162.28" width="4.36" height="5.99" fill="#730a0a"/>
<rect x="70.72" y="162.28" width="4.36" height="5.99" fill="#850c0c"/>
<rect x="75.04" y="162.28" width="4.36" height="5.99" fill="#c11312"/>
<rect x="79.35" y="162.28" width="4.36" height="5.99" fill="#f31e16"/>
<rect x="83.67" y="162.28" width="4.36" height="5.99" fill="#f52016"/>
<rect x="87.98" y="162.28" width="4.36" height="5.99" fill="#f92818"/>
<rect x="92.30" y="162.28" width="4.36" height="5.99" fill="#ff942d"/>
<rect x="96.61" y="162.28" width="4.36" height="5.99" fill="#fed53f"/>
<rect x="100.93" y="162.28" width="4.36" height="5.99" fill="#fcf457"/>
<rect x="105.24" y="162.28" width="30.25" height="5.99" fill="#fcf65c"/>
<rect x="135.45" y="162.28" width="4.36" height="5.99" fill="#ff842a"/>
<rect x="139.76" y="162.28" width="4.36" height="5.99" fill="#ff7627"/>
<rect x="144.08" y="162.28" width="4.36" height="5.99" fill="#f62217"/>
<rect x="148.39" y="162.28" width="4.36" height="5.99" fill="#eb1b15"/>
<rect x="152.71" y="162.28" width="4.36" height="5.99" fill="#f41e16"/>
<rect x="157.02" y="162.28" width="4.36" height="5.99" fill="#f11d16"/>
<rect x="161.34" y="162.28" width="4.36" height="5.99" fill="#7e0b0b"/>
<rect x="165.65" y="162.28" width="4.36" height="5.99" fill="#0b0101"/>
<rect x="57.78" y="168.22" width="4.36" height="5.99" fill="#030000"/>
<rect x="62.09" y="168.22" width="4.36" height="5.99" fill="#450505"/>
<rect x="66.41" y="168.22" width="4.36" height="5.99" fill="#750a0a"/>
<rect x="70.72" y="168.22" width="4.36" height="5.99" fill="#b61211"/>
<rect x="75.04" y="168.22" width="4.36" height="5.99" fill="#f11d16"/>
<rect x="79.35" y="168.22" width="4.36" height="5.99" fill="#f82618"/>
<rect x="83.67" y="168.22" width="4.36" height="5.99" fill="#f51f16"/>
<rect x="87.98" y="168.22" width="4.36" height="5.99" fill="#febb37"/>
<rect x="92.30" y="168.22" width="4.36" height="5.99" fill="#ffa030"/>
<rect x="96.61" y="168.22" width="4.36" height="5.99" fill="#fded4a"/>
<rect x="100.93" y="168.22" width="4.36" height="5.99" fill="#fcf355"/>
<rect x="105.24" y="168.22" width="4.36" height="5.99" fill="#fcf65c"/>
<rect x="109.56" y="168.22" width="4.36" height="5.99" fill="#fcf253"/>
<rect x="113.87" y="168.22" width="12.99" height="5.99" fill="#fcf65c"/>
<rect x="126.82" y="168.22" width="4.36" height="5.99" fill="#fdee4c"/>
<rect x="131.13" y="168.22" width="4.36" height="5.99" fill="#ff892b"/>
<rect x="135.45" y="168.22" width="4.36" height="5.99" fill="#fece3d"/>
<rect x="139.76" y="168.22" width="4.36" height="5.99" fill="#fd391c"/>
<rect x="144.08" y="168.22" width="4.36" height="5.99" fill="#f82618"/>
<rect x="148.39" y="168.22" width="4.36" height="5.99" fill="#ef1c16"/>
<rect x="152.71" y="168.22" width="4.36" height="5.99" fill="#e71915"/>
<rect x="157.02" y="168.22" width="4.36" height="5.99" fill="#c51312"/>
<rect x="161.34" y="168.22" width="4.36" height="5.99" fill="#550707"/>
<rect x="53.46" y="174.17" width="4.36" height="5.99" fill="#050000"/>
<rect x="57.78" y="174.17" width="4.36" height="5.99" fill="#0b0101"/>
<rect x="62.09" y="174.17" width="4.36" height="5.99" fill="#610808"/>
<rect x="66.41" y="174.17" width="4.36" height="5.99" fill="#a5100f"/>
<rect x="70.72" y="174.17" width="4.36" height="5.99" fill="#dd1614"/>
<rect x="75.04" y="174.17" width="4.36" height="5.99" fill="#e51915"/>
<rect x="79.35" y="174.17" width="4.36" height="5.99" fill="#e91a15"/>
<rect x="83.67" y="174.17" width="4.36" height="5.99" fill="#fd301a"/>
<rect x="87.98" y="174.17" width="4.36" height="5.99" fill="#ff6424"/>
<rect x="92.30" y="174.17" width="4.36" height="5.99" fill="#fdee4d"/>
<rect x="96.61" y="174.17" width="34.57" height="5.99" fill="#fcf65c"/>
<rect x="131.13" y="174.17" width="4.36" height="5.99" fill="#fde044"/>
<rect x="135.45" y="174.17" width="4.36" height="5.99" fill="#fde244"/>
<rect x="139.76" y="174.17" width="4.36" height="5.99" fill="#fa2a19"/>
<rect x="144.08" y="174.17" width="4.36" height="5.99" fill="#f72517"/>
<rect x="148.39" y="174.17" width="4.36" height="5.99" fill="#ff5521"/>
<rect x="152.71" y="174.17" width="4.36" height="5.99" fill="#bf1311"/>
<rect x="157.02" y="174.17" width="4.36" height="5.99" fill="#c11312"/>
<rect x="161.34" y="174.17" width="4.36" height="5.99" fill="#2e0303"/>
<rect x="53.46" y="180.11" width="4.36" height="5.99" fill="#1e0202"/>
<rect x="57.78" y="180.11" width="4.36" height="5.99" fill="#580707"/>
<rect x="62.09" y="180.11" width="4.36" height="5.99" fill="#880c0c"/>
<rect x="66.41" y="180.11" width="4.36" height="5.99" fill="#c91412"/>
<rect x="70.72" y="180.11" width="4.36" height="5.99" fill="#e31814"/>
<rect x="75.04" y="180.11" width="4.36" height="5.99" fill="#f62317"/>
<rect x="79.35" y="180.11" width="4.36" height="5.99" fill="#e11714"/>
<rect x="83.67" y="180.11" width="4.36" height="5.99" fill="#fb2d19"/>
<rect x="87.98" y="180.11" width="4.36" height="5.99" fill="#ff972e"/>
<rect x="92.30" y="180.11" width="4.36" height="5.99" fill="#ffa431"/>
<rect x="96.61" y="180.11" width="4.36" height="5.99" fill="#fdf151"/>
<rect x="100.93" y="180.11" width="25.94" height="5.99" fill="#fcf65c"/>
<rect x="126.82" y="180.11" width="4.36" height="5.99" fill="#fdef4e"/>
<rect x="131.13" y="180.11" width="4.36" height="5.99" fill="#ff7828"/>
<rect x="135.45" y="180.11" width="4.36" height="5.99" fill="#ff7d29"/>
<rect x="139.76" y="180.11" width="4.36" height="5.99" fill="#fe3e1d"/>
<rect x="144.08" y="180.11" width="4.36" height="5.99" fill="#f11d16"/>
<rect x="148.39" y="180.11" width="8.68" height="5.99" fill="#ed1c15"/>
<rect x="157.02" y="180.11" width="4.36" height="5.99" fill="#990e0e"/>
<rect x="161.34" y="180.11" width="4.36" height="5.99" fill="#250202"/>
<rect x="49.15" y="186.06" width="4.36" height="5.99" fill="#0a0101"/>
<rect x="53.46" y="186.06" width="4.36" height="5.99" fill="#500606"/>
<rect x="57.78" y="186.06" width="4.36" height="5.99" fill="#610808"/>
<rect x="62.09" y="186.06" width="4.36" height="5.99" fill="#aa1010"/>
<rect x="66.41" y="186.06" width="4.36" height="5.99" fill="#d51513"/>
<rect x="70.72" y="186.06" width="4.36" height="5.99" fill="#f82518"/>
<rect x="75.04" y="186.06" width="4.36" height="5.99" fill="#f62217"/>
<rect x="79.35" y="186.06" width="4.36" height="5.99" fill="#fe3f1d"/>
<rect x="83.67" y="186.06" width="4.36" height="5.99" fill="#fe491f"/>
<rect x="87.98" y="186.06" width="4.36" height="5.99" fill="#feae34"/>
<rect x="92.30" y="186.06" width="4.36" height="5.99" fill="#fde947"/>
<rect x="96.61" y="186.06" width="4.36" height="5.99" fill="#fcf153"/>
<rect x="100.93" y="186.06" width="8.68" height="5.99" fill="#fcf65c"/>
<rect x="109.56" y="186.06" width="4.36" height="5.99" fill="#fcf253"/>
<rect x="113.87" y="186.06" width="12.99" height="5.99" fill="#fcf65c"/>
<rect x="126.82" y="186.06" width="4.36" height="5.99" fill="#fdef4d"/>
<rect x="131.13" y="186.06" width="4.36" height="5.99" fill="#ff6624"/>
<rect x="135.45" y="186.06" width="4.36" height="5.99" fill="#ff6123"/>
<rect x="139.76" y="186.06" width="4.36" height="5.99" fill="#ff5721"/>
<rect x="144.08" y="186.06" width="4.36" height="5.99" fill="#ef1c16"/>
<rect x="148.39" y="186.06" width="4.36" height="5.99" fill="#e01714"/>
<rect x="152.71" y="186.06" width="4.36" height="5.99" fill="#c51312"/>
<rect x="157.02" y="186.06" width="4.36" height="5.99" fill="#730a0a"/>
<rect x="161.34" y="186.06" width="4.36" height="5.99" fill="#160101"/>
</g>
<path d="M2.4 2.05H6.3M3.2 8.50H6.3M3.2 14.95H6.3M3.2 21.40H6.3M3.2 27.85H6.3M1.0 34.30H6.3M3.2 40.75H6.3M3.2 47.20H6.3M3.2 53.65H6.3M3.2 60.10H6.3M2.4 66.55H6.3M3.2 73.00H6.3M3.2 79.45H6.3M3.2 85.90H6.3M3.2 92.35H6.3M1.0 98.80H6.3M3.2 105.25H6.3M3.2 111.70H6.3M3.2 118.15H6.3M3.2 124.60H6.3M2.4 131.05H6.3M3.2 137.50H6.3M3.2 143.95H6.3M3.2 150.40H6.3M3.2 156.85H6.3M1.0 163.30H6.3M3.2 169.75H6.3M3.2 176.20H6.3M3.2 182.65H6.3M3.2 189.10H6.3" stroke="#000" stroke-width="1.3" fill="none"/>
<path d="M6.0 191.8H208.8" stroke="#000" stroke-width="1.3"/>
<path d="M10.62 191.5V197.9M20.31 191.5V197.9M30.01 191.5V197.9M39.70 191.5V200.8M49.39 191.5V197.9M59.09 191.5V197.9M68.78 191.5V197.9M78.48 191.5V197.9M88.17 191.5V200.8M97.86 191.5V197.9M107.56 191.5V197.9M117.25 191.5V197.9M126.95 191.5V197.9M136.64 191.5V200.8M146.33 191.5V197.9M156.03 191.5V197.9M165.72 191.5V197.9M175.42 191.5V197.9M185.11 191.5V200.8M194.80 191.5V197.9M204.50 191.5V197.9" stroke="#000" stroke-width="1.5" fill="none"/>
<path fill="none" stroke="#24c86e" stroke-width="2.8" clip-path="url(#hclip)" d="M154.3 0.5L151.3 9.6M150.3 19.0L147.8 27.9M145.6 37.4L144.2 44.0M141.3 56.6L139.9 63.9M136.9 74.5L135.5 81.0M132.5 91.8L130.3 100.0M128.6 109.3L126.8 118.0M124.6 129.0L122.0 137.2M120.5 147.8L120.0 155.2M117.3 166.0L114.7 173.5M113.0 184.3L111.6 191.5"/>
<g clip-path="url(#hclip)">
<circle cx="142.2" cy="47.6" r="3.4" fill="none" stroke="#27489e" stroke-width="1.9"/>
<circle cx="134.5" cy="60.2" r="3.4" fill="none" stroke="#27489e" stroke-width="1.9"/>
<circle cx="132.6" cy="73.1" r="3.4" fill="none" stroke="#27489e" stroke-width="1.9"/>
<circle cx="133.4" cy="86.3" r="3.4" fill="none" stroke="#27489e" stroke-width="1.9"/>
<circle cx="130.7" cy="98.3" r="3.4" fill="none" stroke="#27489e" stroke-width="1.9"/>
<circle cx="128.4" cy="111.8" r="3.4" fill="none" stroke="#27489e" stroke-width="1.9"/>
<circle cx="125.3" cy="124.6" r="3.4" fill="none" stroke="#27489e" stroke-width="1.9"/>
<circle cx="121.7" cy="137.3" r="3.4" fill="none" stroke="#27489e" stroke-width="1.9"/>
<circle cx="120.2" cy="150.9" r="3.4" fill="none" stroke="#27489e" stroke-width="1.9"/>
<circle cx="119.5" cy="163.6" r="3.4" fill="none" stroke="#27489e" stroke-width="1.9"/>
<circle cx="115.7" cy="176.4" r="3.4" fill="none" stroke="#27489e" stroke-width="1.9"/>
<circle cx="112.3" cy="189.0" r="3.4" fill="none" stroke="#27489e" stroke-width="1.9"/>
</g>
<text x="15.2" y="24.6" font-size="14.2" fill="#fff" textLength="17.4" lengthAdjust="spacingAndGlyphs">(a)</text>
<text x="28.7" y="52.9" font-size="8.6" fill="#e4e4e4" textLength="19.2" lengthAdjust="spacingAndGlyphs">&#915;KM</text>
<text x="19" y="65.9" font-size="8.6" fill="#e4e4e4" textLength="38.8" lengthAdjust="spacingAndGlyphs">direction</text>
<rect x="217.8" y="4.0" width="9.2" height="185.4" fill="url(#cb)" stroke="#2a2016" stroke-width="1.1"/>
<text x="30.4" y="217.7" font-size="14" fill="#161616" textLength="21.2" lengthAdjust="spacingAndGlyphs">1.0</text>
<text x="75.3" y="217.7" font-size="14" fill="#161616" textLength="21.2" lengthAdjust="spacingAndGlyphs">0.5</text>
<text x="128.1" y="217.7" font-size="14" fill="#161616" textLength="20.6" lengthAdjust="spacingAndGlyphs">0.0</text>
<text x="168.1" y="217.7" font-size="14" fill="#161616" textLength="25.9" lengthAdjust="spacingAndGlyphs">-0.5</text>
<text x="27.2" y="236.6" font-size="13.8" fill="#161616" textLength="161.5" lengthAdjust="spacingAndGlyphs">Crystal momentum (&#197;<tspan font-size="8.5" dy="-5">-1</tspan><tspan dy="5">)</tspan></text>
<rect x="264.5" y="2.55" width="200.7" height="190.65" fill="#fff" stroke="#161616" stroke-width="1.6"/>
<path d="M273.70 193.4V199.2M283.30 193.4V199.2M292.90 193.4V199.2M302.50 193.4V201.6M312.10 193.4V199.2M321.70 193.4V199.2M331.30 193.4V199.2M340.90 193.4V199.2M350.50 193.4V201.6M360.10 193.4V199.2M369.70 193.4V199.2M379.30 193.4V199.2M388.90 193.4V199.2M398.50 193.4V201.6M408.10 193.4V199.2M417.70 193.4V199.2M427.30 193.4V199.2M436.90 193.4V199.2M446.50 193.4V201.6M456.10 193.4V199.2" stroke="#161616" stroke-width="1.5" fill="none"/>
<polyline fill="none" stroke="#e62e20" stroke-width="1.5" stroke-linejoin="round" points="264.3,92.8 266.1,84.1 268.7,82.4 270.4,86.7 272.5,78.0 274.2,82.4 276.0,85.8 277.4,82.4 279.4,89.3 281.2,91.9 283.4,79.8 285.2,81.5 286.9,85.8 289.5,86.7 291.6,94.5 293.9,85.0 295.6,88.4 297.3,91.0 299.6,88.4 301.7,94.5 304.3,87.6 306.0,80.6 307.7,85.8 310.3,88.4 312.6,93.6 314.7,85.8 316.8,81.5 318.5,84.1 320.8,77.2 322.5,83.2 323.9,78.0 326.0,84.1 328.1,85.0 330.3,78.0 332.0,77.2 334.3,78.2 336.1,75.6 338.3,77.3 340.4,78.2 343.0,75.6 345.6,72.1 347.4,73.9 349.4,74.7 351.7,72.1 354.3,66.0 356.4,53.0 358.6,52.2 360.4,57.4 362.1,53.9 363.9,57.4 366.5,55.6 368.5,51.3 370.8,49.5 372.5,48.7 374.3,50.4 376.5,45.2 378.6,42.6 381.1,39.5 382.8,32.6 384.5,28.2 386.3,31.7 388.9,32.6 391.0,31.7 392.4,35.2 393.2,38.6 394.4,27.4 395.8,21.3 397.6,19.5 399.3,20.4 401.0,16.9 402.4,18.7 403.6,32.6 404.9,29.1 406.3,24.8 408.0,26.5 409.7,24.8 411.5,29.1 413.5,32.6 415.3,42.1 416.7,38.6 418.4,40.4 420.5,49.1 422.7,47.3 424.8,43.9 426.4,43.1 427.9,47.1 429.5,51.0 431.1,49.4 432.6,55.7 434.2,65.1 436.1,68.2 438.1,69.0 439.7,70.6 441.3,73.7 443.3,72.2 444.9,70.6 446.5,73.7 448.3,76.9 450.0,79.0"/>
<polyline fill="none" stroke="#2a48b8" stroke-width="1.6" stroke-linejoin="round" points="265.0,87.5 266.3,87.5 268.1,87.6 270.2,87.7 272.5,87.7 275.0,87.8 277.6,87.9 280.2,87.9 282.7,88.0 285.0,88.0 287.2,88.0 289.5,88.0 291.9,88.0 294.2,88.0 296.5,87.9 298.7,87.9 300.9,87.8 303.0,87.6 305.0,87.5 307.8,87.2 310.4,86.9 312.8,86.5 315.2,86.0 317.6,85.5 320.0,85.0 322.6,84.5 325.2,83.9 327.8,83.3 330.4,82.7 332.8,82.0 335.0,81.3 337.9,80.2 340.3,79.1 342.6,77.8 345.0,76.3 347.5,74.5 350.0,72.5 352.5,70.3 355.0,68.0 357.5,65.6 360.0,63.0 362.5,60.3 365.0,57.5 367.5,54.5 370.0,51.3 372.5,48.1 375.0,45.0 377.6,42.0 380.2,39.0 382.7,36.2 385.0,33.8 387.7,31.2 390.2,29.1 392.5,27.5 395.7,26.0 398.8,25.5 401.8,26.0 405.0,27.5 407.4,29.1 410.0,31.3 412.5,33.8 415.0,36.9 417.5,40.5 420.0,43.8 422.5,46.5 425.0,49.0 427.5,51.5 430.0,54.3 432.5,57.1 435.0,60.0 437.5,63.0 440.0,66.0 442.5,68.8 445.3,71.4 448.1,73.8 450.0,75.5"/>
<polyline fill="none" stroke="#e62e20" stroke-width="1.5" stroke-linejoin="round" points="264.3,120.4 266.9,116.0 269.5,112.6 271.3,116.0 273.0,114.3 274.8,117.8 277.4,121.3 279.4,118.6 281.7,119.5 284.3,122.1 286.9,117.8 289.5,116.0 291.3,118.6 293.9,114.3 295.6,113.4 297.8,117.8 299.9,122.1 302.0,116.0 304.3,120.4 306.0,118.6 307.7,121.3 310.3,117.8 313.0,116.9 315.6,117.8 318.2,116.0 320.8,116.0 323.4,114.3 325.6,116.0 327.7,106.5 329.8,104.8 332.1,110.8 334.3,113.0 336.6,109.0 339.3,106.5 342.2,103.9 344.8,101.3 346.5,97.8 348.2,100.4 350.5,98.6 352.6,96.0 355.2,93.4 356.9,90.0 358.6,87.4 360.4,83.0 362.1,81.5 363.9,83.9 366.5,80.6 369.1,77.5 371.7,75.2 373.4,73.5 374.8,67.5 376.9,70.4 379.5,71.3 381.7,68.6 383.8,63.4 385.9,59.1 388.2,57.4 390.4,58.2 392.5,60.0 395.1,59.1 397.7,56.5 399.4,55.6 401.5,53.0 403.8,57.4 406.4,61.7 408.3,63.5 410.7,60.4 412.3,63.5 413.8,65.9 415.4,66.7 417.0,69.0 418.5,71.5 420.1,74.2 421.4,71.5 422.5,84.9 424.0,81.0 425.6,82.5 427.2,85.7 428.7,89.6 430.3,87.3 432.6,86.5 434.2,89.6 436.1,92.7 438.1,95.1 439.7,95.9 441.3,99.0 442.8,102.2 444.4,103.9 446.8,106.5 448.3,109.4 449.9,113.3"/>
<polyline fill="none" stroke="#2a48b8" stroke-width="1.6" stroke-linejoin="round" points="265.0,118.8 266.3,118.8 268.0,118.8 270.0,118.8 272.2,118.8 274.7,118.8 277.2,118.7 279.8,118.7 282.4,118.6 285.0,118.5 287.1,118.4 289.4,118.3 291.7,118.1 294.1,118.0 296.6,117.8 299.0,117.6 301.4,117.4 303.8,117.2 306.0,117.0 308.1,116.7 310.0,116.5 313.1,116.0 315.9,115.5 318.4,114.9 320.7,114.3 322.9,113.6 325.0,113.0 328.0,112.0 330.6,111.0 333.0,110.0 335.0,109.0 337.5,107.5 340.0,105.5 342.1,103.9 344.5,102.1 347.2,100.0 350.0,97.5 352.3,95.2 354.8,92.6 357.4,89.9 360.0,87.1 362.5,84.3 365.0,81.4 367.6,78.4 370.2,75.4 372.7,72.6 375.0,70.0 377.7,67.1 380.2,64.6 382.6,62.3 385.0,60.5 387.3,59.1 389.5,58.0 391.6,57.4 393.8,57.0 396.7,57.0 399.5,57.5 402.5,58.8 404.9,60.3 407.4,62.3 410.0,64.5 412.5,67.0 415.0,69.7 417.5,72.7 420.0,75.8 422.5,78.8 425.0,81.6 427.5,84.5 430.0,87.2 432.5,89.8 435.1,92.3 437.7,94.8 440.2,97.1 442.5,99.2 445.5,101.9 448.1,104.3 450.0,106.0"/>
<polyline fill="none" stroke="#e62e20" stroke-width="1.5" stroke-linejoin="round" points="264.3,150.4 266.9,150.4 269.5,148.6 272.2,147.8 274.8,149.5 277.4,150.4 279.4,149.5 281.2,151.3 283.4,146.9 286.0,147.8 288.6,146.9 291.3,145.2 293.9,146.9 296.5,147.8 299.1,146.0 301.7,145.2 304.3,146.9 306.0,148.6 307.7,143.4 310.3,142.6 313.0,140.8 315.2,141.7 317.3,140.0 319.4,138.2 321.6,139.1 323.9,141.7 326.0,142.6 328.1,141.7 330.3,136.5 332.6,133.9 334.7,127.8 336.7,126.5 339.3,126.9 341.3,129.5 343.5,127.8 345.6,125.2 347.4,120.8 349.4,120.0 351.7,117.4 354.3,114.8 356.0,112.2 357.8,110.4 359.5,106.1 361.3,103.5 363.0,107.8 364.7,106.1 366.8,102.6 369.1,100.0 371.7,97.8 373.4,98.6 375.5,99.5 377.7,96.9 379.5,92.6 381.2,87.4 383.0,83.0 384.7,82.2 386.4,83.0 388.2,82.2 389.9,82.2 391.6,86.5 393.4,87.4 395.6,89.1 397.7,91.7 399.4,90.8 401.2,90.8 402.9,94.3 405.0,96.0 407.3,98.6 409.1,100.6 410.7,97.5 412.3,101.4 414.6,105.5 417.0,109.4 419.3,113.3 421.7,115.7 423.2,117.3 424.8,118.0 426.4,122.7 427.9,125.9 429.5,126.7 431.4,127.5 433.4,129.0 435.0,129.5 436.6,134.7 438.1,137.1 440.5,136.5 442.8,138.6 444.9,141.8 446.8,141.0 448.3,144.9 449.9,149.6"/>
<polyline fill="none" stroke="#2a48b8" stroke-width="1.6" stroke-linejoin="round" points="265.0,149.2 266.3,149.1 268.1,149.1 270.2,149.0 272.5,148.9 275.0,148.8 277.6,148.7 280.2,148.6 282.7,148.5 285.0,148.3 287.2,148.1 289.5,148.0 291.9,147.8 294.2,147.6 296.5,147.4 298.7,147.2 300.9,146.9 303.0,146.6 305.0,146.3 307.8,145.8 310.6,145.2 313.1,144.5 315.6,143.8 317.8,143.1 320.0,142.3 322.9,141.1 325.3,139.9 327.6,138.5 330.0,137.0 332.6,135.3 335.1,133.6 337.7,131.7 340.0,129.8 342.8,127.3 345.3,124.6 347.8,122.0 350.1,119.4 352.3,116.8 354.7,113.9 357.5,110.5 360.4,106.9 363.4,103.4 366.4,100.0 369.3,96.7 372.1,93.9 374.5,91.7 376.8,90.0 379.0,88.7 381.3,87.8 383.7,87.4 386.0,87.3 388.3,87.5 390.6,87.9 392.9,88.7 395.2,89.8 397.5,91.3 399.9,93.0 402.3,95.0 404.7,97.3 407.5,100.0 409.5,102.0 411.8,104.3 414.2,106.6 416.4,108.9 418.5,111.0 421.3,113.7 423.8,116.1 426.4,118.8 428.7,121.4 431.2,124.3 433.6,127.1 435.8,129.5 439.0,132.7 442.0,135.2 444.8,137.3 447.9,139.4 450.0,140.8"/>
<polyline fill="none" stroke="#e62e20" stroke-width="1.5" stroke-linejoin="round" points="264.3,178.6 266.9,177.8 269.5,179.5 271.3,180.4 273.9,178.6 276.5,176.9 278.8,174.3 280.8,176.9 283.4,176.0 286.0,173.4 288.1,177.8 290.4,179.2 293.0,174.3 295.6,174.3 297.8,176.0 299.9,176.0 302.5,177.8 304.8,177.8 306.9,175.2 309.5,173.4 312.1,173.4 314.7,172.6 317.3,172.6 319.4,171.7 321.6,168.2 323.9,167.4 326.0,168.2 328.1,164.8 330.3,162.2 332.6,163.0 334.7,160.4 336.7,158.7 339.0,156.1 341.5,153.6 343.8,150.0 346.0,148.6 347.8,144.5 349.1,141.7 351.7,138.2 354.3,134.7 356.9,132.1 358.6,127.8 360.4,123.4 362.1,121.7 364.7,121.7 367.3,120.0 369.6,119.1 371.7,120.8 374.3,122.6 376.0,124.3 378.3,122.6 380.3,123.4 382.1,120.0 384.2,116.5 385.9,116.5 388.2,119.1 389.9,120.0 391.6,117.4 393.4,120.8 395.6,123.4 397.7,128.6 399.4,130.4 400.3,122.9 402.0,129.5 404.3,133.0 406.4,135.6 408.3,137.1 410.7,141.0 412.6,144.1 414.6,141.8 416.2,145.7 417.7,149.6 419.3,148.0 420.9,148.8 422.5,152.0 424.0,158.2 425.6,156.7 427.2,159.8 428.7,161.4 430.3,163.7 431.4,167.6"/>
<polyline fill="none" stroke="#2a48b8" stroke-width="1.6" stroke-linejoin="round" points="265.0,179.5 266.4,179.4 268.2,179.3 270.4,179.1 272.8,178.9 275.4,178.7 278.0,178.5 280.5,178.3 282.9,178.2 285.0,178.0 287.8,177.8 290.6,177.7 293.1,177.6 295.6,177.4 297.8,177.2 300.0,177.0 302.9,176.5 305.3,176.0 307.6,175.3 310.0,174.5 312.5,173.6 315.0,172.6 317.5,171.4 320.0,170.0 322.5,168.3 325.0,166.3 327.5,164.2 330.0,162.0 332.6,159.8 335.2,157.5 337.7,155.2 340.0,153.0 342.8,150.2 345.3,147.5 347.5,145.0 350.2,141.8 352.5,138.5 354.8,134.6 357.5,130.5 359.8,127.5 362.4,124.5 365.0,122.0 367.4,120.4 369.7,119.3 372.0,118.5 374.3,117.8 376.7,117.4 379.0,117.3 381.4,117.5 383.9,118.0 386.0,118.5 388.0,119.0 390.0,120.0 392.2,121.6 394.9,123.6 397.5,126.0 400.0,128.8 402.5,131.9 405.0,135.0 407.4,137.9 409.8,140.8 412.5,143.8 414.9,146.2 417.4,148.8 420.0,151.3 422.5,153.8 425.0,156.4 427.5,159.0 429.7,161.4 431.3,163.0"/>
<text x="274.0" y="24.5" font-size="14.8" fill="#111">(b)</text>
<text x="394.8" y="188.6" font-size="12" fill="#111">K</text>
<text x="291.7" y="217.8" font-size="14" fill="#161616" textLength="21.3" lengthAdjust="spacingAndGlyphs">1.0</text>
<text x="336.8" y="217.8" font-size="14" fill="#161616" textLength="20.8" lengthAdjust="spacingAndGlyphs">0.5</text>
<text x="389.1" y="217.8" font-size="14" fill="#161616" textLength="21.7" lengthAdjust="spacingAndGlyphs">0.0</text>
<text x="429.8" y="217.8" font-size="14" fill="#161616" textLength="25.8" lengthAdjust="spacingAndGlyphs">-0.5</text>
<text x="288.4" y="237.0" font-size="13.8" fill="#161616" textLength="161.7" lengthAdjust="spacingAndGlyphs">Crystal momentum (&#197;<tspan font-size="8.5" dy="-5">-1</tspan><tspan dy="5">)</tspan></text>
</svg>
</body></html>
